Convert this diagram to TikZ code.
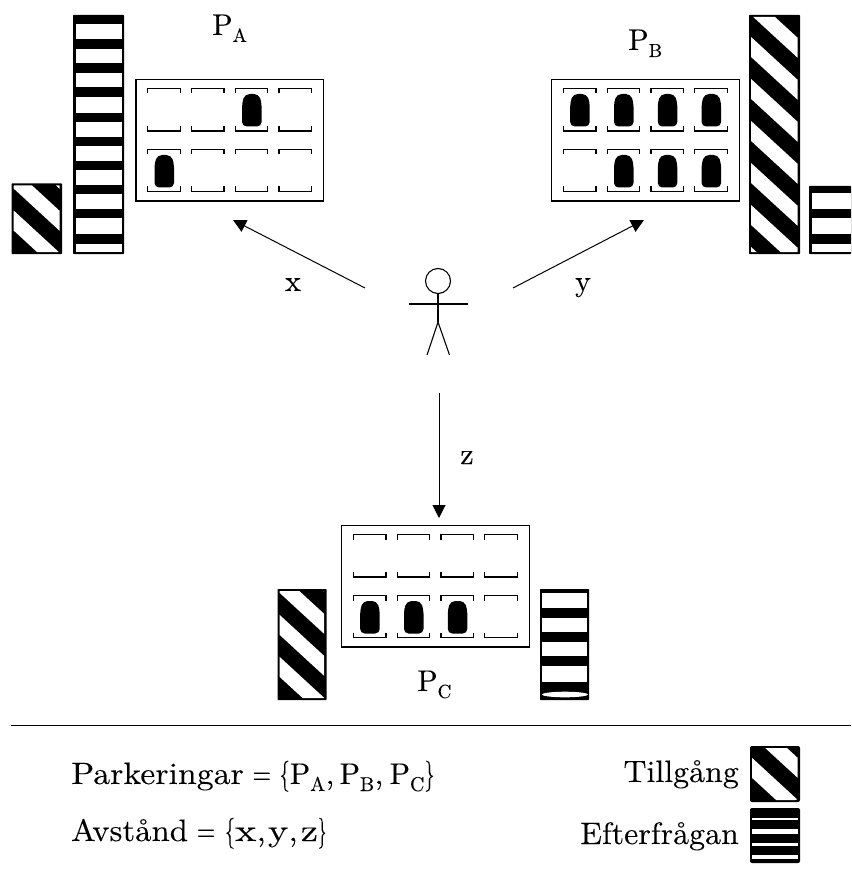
\documentclass[tikz,border=0pt]{standalone}
\usepackage{fontspec}
\newfontfamily\reffont{lmroman10-regular.otf}[FakeBold=0.12]
\newfontfamily\widefont{lmroman10-regular.otf}[FakeStretch=1.09,FakeBold=0.12]
\newfontfamily\midfont{lmroman10-regular.otf}[FakeStretch=1.03,FakeBold=0.12]
\usetikzlibrary{arrows.meta}
\newcommand{\barround}{0.6pt}
\newcommand{\hstripes}[7]{%
  \fill[black,rounded corners=\barround] (#1,#2) rectangle (#3,#4);
  \foreach \a/\b in {#7} {\fill[white] (#5,\a) rectangle (#6,\b);}
}
\newcommand{\dstripes}[5]{%
  \fill[black,rounded corners=\barround] (#1,#2) rectangle (#3,#4);
  \begin{scope}
    \clip[rounded corners=\barround] ({#1+2},{#2+2}) rectangle ({#3-2.4},{#4-2});
    \foreach \k in {0,...,7} {
      \pgfmathsetmacro{\u}{#5+42*\k}
      \pgfmathsetmacro{\v}{\u-0.92*(#3-#1)}
      \fill[white] (#3,\u) -- (#1,\v) -- (#1,\v+20) -- (#3,\u+20) -- cycle;
    }
  \end{scope}
}
\newcommand{\slotmark}[3]{% x, top y, bottom y
  \draw[slotline] (#1,#2+5) -- (#1,#2) -- (#1+32.5,#2) -- (#1+32.5,#2+5);
  \draw[slotline] (#1,#3-5) -- (#1,#3) -- (#1+32.5,#3) -- (#1+32.5,#3-5);
}
\newcommand{\carshape}[2]{% x, top y
  \fill[black,rounded corners=4.5pt] (#1+3,#2) -- (#1+16.5,#2) -- (#1+19.5,#2+8) -- (#1+19.5,#2+32.5) -- (#1,#2+32.5) -- (#1,#2+8) -- cycle;
}
\newcommand{\parklot}[5]{%
  \node[lotbox,anchor=north west] (#1) at (#2,#3) {};
  \foreach \c in {0,1,2,3} {
    \pgfmathsetmacro{\sx}{#2+11.7+43.8*\c}
    \slotmark{\sx}{#3+9}{#3+51.5}
    \slotmark{\sx}{#3+70}{#3+112}
  }
  \foreach \c in {#4} {
    \pgfmathsetmacro{\sx}{#2+18.5+43.8*\c}
    \carshape{\sx}{#3+14.5}
  }
  \foreach \c in {#5} {
    \pgfmathsetmacro{\sx}{#2+18.5+43.8*\c}
    \carshape{\sx}{#3+75.5}
  }
}
\newcommand{\bigfont}{\reffont\fontsize{30}{32}\selectfont}
\newcommand{\widesize}{\widefont\fontsize{31}{32}\selectfont}
\newcommand{\midsize}{\midfont\fontsize{31}{32}\selectfont}
\newcommand{\subfont}{\reffont\fontsize{19}{20}\selectfont}
\newcommand{\legsub}{\reffont\fontsize{20}{20}\selectfont}
\newcommand{\lblP}[1]{P\raisebox{-7pt}{\subfont #1}}
\newcommand{\legP}[1]{{\bigfont P}\raisebox{-7pt}{\legsub #1}}
\newcommand{\narrowchar}[2]{\scalebox{#1}[1]{#2}}
\tikzset{
  lotbox/.style={draw=black,line width=1.3pt,minimum width=187.5pt,minimum height=121.5pt,inner sep=0pt,outer sep=0pt},
  slotline/.style={draw=black,line width=1.3pt},
  conn/.style={draw=black,line width=1pt,-{Triangle[length=13pt,width=13pt]}},
  figline/.style={draw=black,line width=1.1pt},
  lbl/.style={inner sep=0pt,font=\bigfont,text=black},
  leftleg/.style={inner sep=0pt,font=\widesize,text=black},
  rightleg/.style={inner sep=0pt,font=\midsize,text=black},
}
\begin{document}
\begin{tikzpicture}[x=1pt,y=-1pt]
\useasboundingbox (0,0) rectangle (851,877);
\dstripes{11.5}{183.5}{62}{254}{171}
\hstripes{73}{15}{124}{254}{75.5}{121.5}{24.5/39.5,48.7/63.3,72.7/87.3,96.7/112.7,122/137.3,146/161,170/185,194/209,218/234,244/252.3}
\dstripes{749}{15}{800}{254}{-2}
\hstripes{809}{186}{851}{254}{812}{851}{193/209,218/234,244/252}
\dstripes{277.5}{589}{326.5}{700}{574}
\hstripes{540}{589}{589}{700}{542}{587}{593/608,618/632,642/656,666/682}
\fill[white] (565,694.5) ellipse [x radius=23,y radius=2.8];
\parklot{lotA}{136}{79.5}{2}{0}
\parklot{lotB}{551.7}{79.5}{0,1,2,3}{1,2,3}
\parklot{lotC}{341.7}{525.5}{}{0,1,2}
\node[lbl,anchor=base west] (labA) at (212,35) {\lblP{A}};
\node[lbl,anchor=base west] (labB) at (628,50) {\lblP{B}};
\node[lbl,anchor=base west] (labC) at (417,691) {\lblP{C}};
\node[draw=black,line width=1.1pt,circle,minimum size=25pt,inner sep=0pt,outer sep=0pt] (head) at (438,281) {};
\coordinate (hip) at (438,322);
\coordinate (armL) at (408.5,304);
\coordinate (armR) at (467.5,304);
\coordinate (footL) at (427,355);
\coordinate (footR) at (449.5,355);
\draw[figline] (head.south) -- (hip);
\draw[figline] (armL) -- (armR);
\draw[figline] (footL) -- (hip) -- (footR);
\coordinate (xs) at (365,288); \coordinate (xe) at (233,220);
\coordinate (ys) at (513,288); \coordinate (ye) at (644,220);
\coordinate (zs) at (439,393); \coordinate (ze) at (439,518);
\draw[conn] (xs) -- (xe);
\draw[conn] (ys) -- (ye);
\draw[conn] (zs) -- (ze);
\node[lbl,anchor=base] (labx) at (293,291) {x};
\node[lbl,anchor=base] (laby) at (583,291) {y};
\node[lbl,anchor=base] (labz) at (467,464) {z};
\coordinate (ruleL) at (11,725); \coordinate (ruleR) at (851,725);
\draw[black,line width=1pt] (ruleL) -- (ruleR);
\node[leftleg,anchor=base west] (legP) at (71,784) {Parkeringar\hspace{8.7pt}\narrowchar{0.71}{=}\hspace{8.5pt}\narrowchar{0.6}{\{}\legP{A},\hspace{5pt}\legP{B},\hspace{6pt}\legP{C}\narrowchar{0.6}{\}}};
\node[leftleg,anchor=base west] (legA) at (71,841) {\narrowchar{0.97}{Avstånd}\hspace{8.7pt}\narrowchar{0.71}{=}\hspace{9.6pt}\narrowchar{0.6}{\{}\narrowchar{1.2}{x},\hspace{2pt}\narrowchar{1.15}{y},\hspace{3pt}\narrowchar{1.15}{z}\narrowchar{0.5}{\}}};
\node[rightleg,anchor=base east] (legT) at (739,782) {Tillgång};
\node[rightleg,anchor=base east] (legE) at (739,844) {Efterfrågan};
\renewcommand{\barround}{2pt}
\dstripes{750}{746}{800}{802}{760}
\hstripes{750}{808}{800}{863}{752}{798}{818/820,829/834,843/846,855/859}
\end{tikzpicture}
\end{document}
